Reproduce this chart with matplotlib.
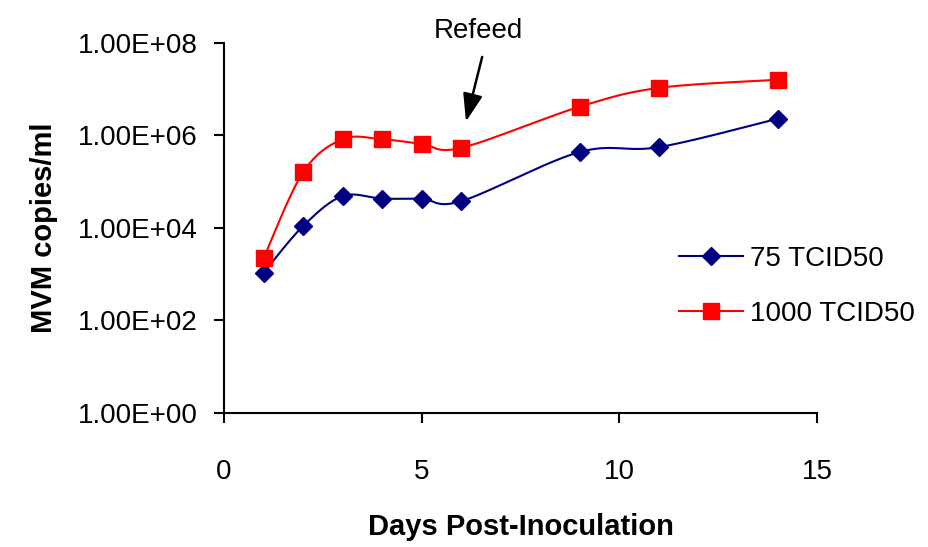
import numpy as np
import matplotlib as mpl
mpl.use("agg")
import matplotlib.pyplot as plt

plt.rcParams['font.family'] = ['Liberation Sans', 'DejaVu Sans']

days = [1, 2, 3, 4, 5, 6, 9, 11, 14]
low_dose = [1.07e3, 1.1e4, 4.9e4, 4.3e4, 4.3e4, 3.8e4, 4.4e5, 5.6e5, 2.3e6]
high_dose = [2.2e3, 1.6e5, 8.3e5, 8.3e5, 6.6e5, 5.4e5, 4.2e6, 1.07e7, 1.6e7]
series_names = ["75 TCID50", "1000 TCID50"]
yticks = [1e0, 1e2, 1e4, 1e6, 1e8]
ytick_labels = ["1.00E+00", "1.00E+02", "1.00E+04", "1.00E+06", "1.00E+08"]


def smooth(x, y, n=30):
    # excel-like smoothed line, bezier through points in (x, log y)
    x = np.asarray(x, float)
    ly = np.log10(y)
    px, py = [], []
    m = len(x)
    for i in range(m - 1):
        x0, y0 = x[max(i - 1, 0)], ly[max(i - 1, 0)]
        x1, y1 = x[i], ly[i]
        x2, y2 = x[i + 1], ly[i + 1]
        x3, y3 = x[min(i + 2, m - 1)], ly[min(i + 2, m - 1)]
        c1x, c1y = x1 + (x2 - x0) / 6, y1 + (y2 - y0) / 6
        c2x, c2y = x2 - (x3 - x1) / 6, y2 - (y3 - y1) / 6
        t = np.linspace(0, 1, n)
        bx = (1-t)**3*x1 + 3*(1-t)**2*t*c1x + 3*(1-t)*t**2*c2x + t**3*x2
        by = (1-t)**3*y1 + 3*(1-t)**2*t*c1y + 3*(1-t)*t**2*c2y + t**3*y2
        px.extend(bx)
        py.extend(by)
    return np.array(px), 10 ** np.array(py)


fig = plt.figure(figsize=(9.29, 5.47), dpi=100)
ax = fig.add_axes([0.2411, 0.245, 0.6384, 0.6764])

sx, sy = smooth(days, low_dose)
ax.plot(sx, sy, color="#000080", lw=1.5)
ax.plot(days, low_dose, 'D', color="#000080", ms=9, ls='none')
sx, sy = smooth(days, high_dose)
ax.plot(sx, sy, color="#ff0000", lw=1.5)
ax.plot(days, high_dose, 's', color="#ff0000", ms=11, ls='none')

# legend handles
h1, = ax.plot([], [], color="#000080", lw=1.5, marker='D', ms=9)
h2, = ax.plot([], [], color="#ff0000", lw=1.5, marker='s', ms=11)
ax.legend([h1, h2], series_names, loc="upper left", bbox_to_anchor=(0.725, 0.52),
          frameon=False, fontsize=20, handlelength=2.3, handletextpad=0.25,
          labelspacing=1.05)

ax.set_yscale("log")
ax.set_ylim(1e0, 1e8)
ax.set_xlim(0, 15)
ax.set_yticks(yticks)
ax.set_yticklabels(ytick_labels)
ax.yaxis.set_minor_locator(mpl.ticker.NullLocator())
ax.set_xticks([0, 5, 10, 15])
ax.tick_params(axis='both', labelsize=20, length=7, width=1.5, direction='out')
ax.tick_params(axis='x', pad=26)
ax.tick_params(axis='y', pad=12)

for side in ["top", "right"]:
    ax.spines[side].set_visible(False)
for side in ["left", "bottom"]:
    ax.spines[side].set_linewidth(1.5)

ax.set_xlabel("Days Post-Inoculation", fontsize=21, fontweight="bold", labelpad=20)
ax.set_ylabel("MVM copies/ml", fontsize=21, fontweight="bold", labelpad=14)

ax.text(6.43, 1.8e8, "Refeed", fontsize=20, ha="center", va="center")
ax.annotate("", xy=(6.12, 2.0e6), xytext=(6.53, 5e7), annotation_clip=False,
            arrowprops=dict(arrowstyle="-|>,head_width=0.3,head_length=0.85",
                            color="black", lw=1.8, mutation_scale=20,
                            shrinkA=0, shrinkB=0))

fig.savefig("out.png", dpi=100)
